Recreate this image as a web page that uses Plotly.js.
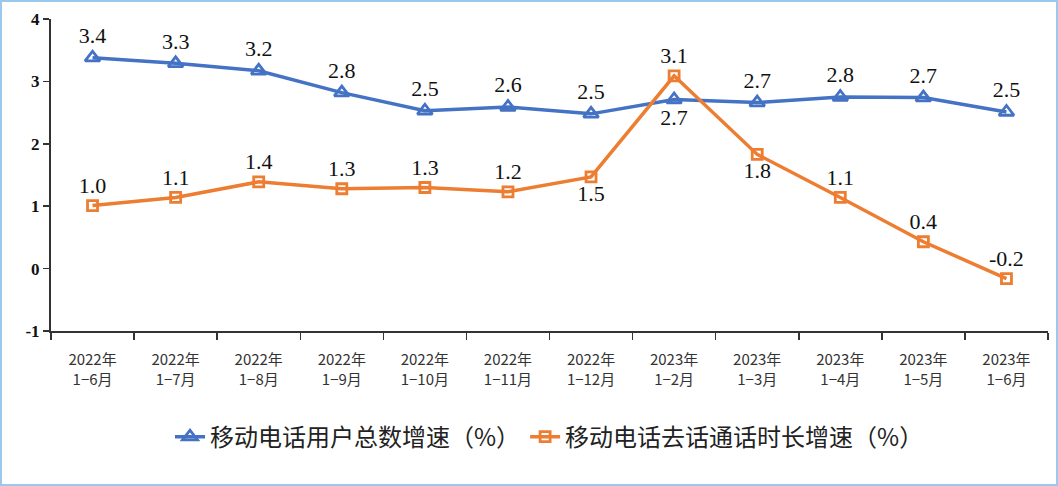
<!DOCTYPE html>
<html><head><meta charset="utf-8">
<script src="https://cdn.plot.ly/plotly-3.0.1.min.js"></script>
<style>
html,body{margin:0;padding:0;background:#fff;}
#wrap{position:relative;width:1058px;height:486px;}
#chart{width:1058px;height:486px;}
#frame{position:absolute;left:0;top:0;width:1058px;height:486px;box-sizing:border-box;border:2px solid #9dc8ee;pointer-events:none;}
</style></head>
<body><div id="wrap"><div id="chart"></div><div id="frame"></div></div>
<script>
const categories = ["2022年<br>1−6月","2022年<br>1−7月","2022年<br>1−8月","2022年<br>1−9月","2022年<br>1−10月","2022年<br>1−11月","2022年<br>1−12月","2023年<br>1−2月","2023年<br>1−3月","2023年<br>1−4月","2023年<br>1−5月","2023年<br>1−6月"];
const usersGrowth = [3.38,3.29,3.17,2.82,2.53,2.59,2.48,2.71,2.66,2.75,2.74,2.51];
const callGrowth = [1.01,1.14,1.39,1.28,1.30,1.23,1.47,3.09,1.83,1.14,0.43,-0.16];
const usersLabels = ["3.4","3.3","3.2","2.8","2.5","2.6","2.5","2.7","2.7","2.8","2.7","2.5"];
const callLabels = ["1.0","1.1","1.4","1.3","1.3","1.2","1.5","3.1","1.8","1.1","0.4","-0.2"];
const usersName = "移动电话用户总数增速（%）";
const callName = "移动电话去话通话时长增速（%）";
const yTicks = [-1,0,1,2,3,4];
const yTickText = ["-1","0","1","2","3","4"];

const usersPos = usersLabels.map((v,i)=> i===7 ? "bottom center" : "top center");
const callPos = callLabels.map((v,i)=> (i===6||i===8) ? "bottom center" : "top center");

const labelFont = {family:"Liberation Serif, Times New Roman, serif", size:22, color:"#111"};

const traces = [
 {x:categories, y:usersGrowth, name:usersName, type:"scatter", mode:"lines+markers+text",
  text:usersLabels, textposition:usersPos, textfont:labelFont, cliponaxis:false,
  line:{color:"#4472C4", width:3.5},
  marker:{symbol:"triangle-up-open", size:13, color:"#4472C4", line:{width:2.8, color:"#4472C4"}}},
 {x:categories, y:callGrowth, name:callName, type:"scatter", mode:"lines+markers+text",
  text:callLabels, textposition:callPos, textfont:labelFont, cliponaxis:false,
  line:{color:"#ED7D31", width:3.5},
  marker:{symbol:"square-open", size:10, color:"#ED7D31", line:{width:2.8, color:"#ED7D31"}}}
];

const layout = {
 width:1058, height:486,
 margin:{l:51, r:10, t:19, b:155},
 paper_bgcolor:"#fff", plot_bgcolor:"#fff",
 showlegend:true,
 legend:{orientation:"h", x:0.5, xanchor:"center", y:-0.34, yanchor:"middle",
   font:{family:"Noto Sans CJK SC, sans-serif", size:24, color:"#222"}, itemwidth:30, tracegroupgap:0},
 xaxis:{type:"category", range:[-0.5,11.5], showgrid:false, zeroline:false,
   showline:true, linecolor:"#333", linewidth:2, ticks:"outside", tickson:"boundaries",
   ticklen:7, tickwidth:1.5, tickcolor:"#333", ticklabelstandoff:14,
   tickfont:{family:"Noto Sans CJK SC, sans-serif", size:15, color:"#333"}},
 yaxis:{range:[-1,4], tickvals:yTicks, ticktext:yTickText, showgrid:false, zeroline:false,
   showline:true, linecolor:"#333", linewidth:2, ticks:"outside", ticklen:6, tickwidth:1.5, tickcolor:"#333",
   tickfont:{family:"Liberation Serif, Times New Roman, serif", size:17, color:"#111", weight:"bold"}}
};
Plotly.newPlot("chart", traces, layout, {displayModeBar:false, staticPlot:true});
</script></body></html>
